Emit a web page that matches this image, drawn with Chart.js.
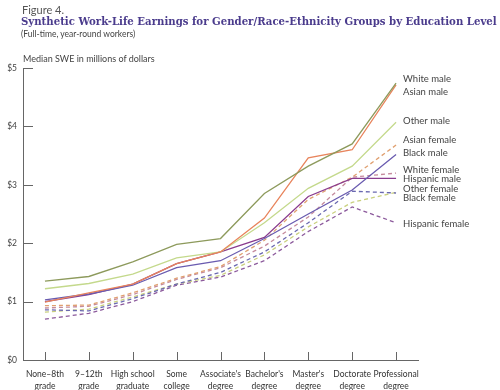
<!DOCTYPE html>
<html>
<head>
<meta charset="utf-8">
<script src="https://cdn.jsdelivr.net/npm/chart.js@4/dist/chart.umd.min.js"></script>
<style>
  body { margin: 0; background: #fff; }
  #wrap { position: relative; width: 500px; height: 390px; }
  #chart { position: absolute; left: 0; top: 0; }
  .txt { position: absolute; white-space: nowrap; font-family: Lato, "Open Sans", sans-serif; }
  #fig { left: 22px; top: 3px; font-size: 11px; color: #555; }
  #title { left: 21px; top: 15px; font-family: "DejaVu Serif", serif; font-weight: bold; font-size: 12px; color: #4a3b8c; }
  #sub { left: 21px; top: 29px; font-size: 8.5px; color: #444; }
  #ylab { left: 23px; top: 53px; font-size: 9px; color: #444; }
</style>
</head>
<body>
<div id="wrap">
  <canvas id="chart" width="500" height="390"></canvas>
  <div class="txt" id="fig">Figure 4.</div>
  <div class="txt" id="title">Synthetic Work-Life Earnings for Gender/Race-Ethnicity Groups by Education Level</div>
  <div class="txt" id="sub">(Full-time, year-round workers)</div>
  <div class="txt" id="ylab">Median SWE in millions of dollars</div>
</div>
<script>
// Categories (education level)
const educationLevels = [
    ['None\u20138th', 'grade'], ['9\u201312th', 'grade'], ['High school', 'graduate'],
    ['Some', 'college'], ["Associate's", 'degree'], ["Bachelor's", 'degree'],
    ["Master's", 'degree'], ['Doctorate', 'degree'], ['Professional', 'degree']
];

// Median SWE, millions of dollars
const whiteMale      = [1.35, 1.43, 1.68, 1.98, 2.08, 2.85, 3.32, 3.70, 4.74];
const asianMale      = [0.99, 1.15, 1.30, 1.65, 1.85, 2.43, 3.46, 3.60, 4.71];
const otherMale      = [1.22, 1.31, 1.47, 1.75, 1.85, 2.35, 2.94, 3.32, 4.07];
const blackMale      = [1.03, 1.13, 1.28, 1.58, 1.70, 2.08, 2.50, 2.91, 3.52];
const hispanicMale   = [1.00, 1.12, 1.30, 1.65, 1.85, 2.10, 2.80, 3.11, 3.11];
const asianFemale    = [0.93, 0.94, 1.15, 1.40, 1.60, 2.05, 2.75, 3.13, 3.68];
const whiteFemale    = [0.89, 0.92, 1.12, 1.38, 1.58, 1.95, 2.45, 3.13, 3.20];
const otherFemale    = [0.86, 0.84, 1.05, 1.30, 1.50, 1.85, 2.35, 2.89, 2.86];
const blackFemale    = [0.82, 0.87, 1.08, 1.30, 1.45, 1.80, 2.28, 2.70, 2.87];
const hispanicFemale = [0.70, 0.80, 1.00, 1.28, 1.42, 1.70, 2.20, 2.62, 2.35];

const yTicks = [0, 1, 2, 3, 4, 5];

// Series names and where their end labels sit (in data units)
const seriesNames = ['White male', 'Asian male', 'Other male', 'Black male', 'Hispanic male',
    'Asian female', 'White female', 'Other female', 'Black female', 'Hispanic female'];
const labelValues = [4.81, 4.59, 4.09, 3.54, 3.10, 3.77, 3.25, 2.93, 2.77, 2.33];

const seriesData = [whiteMale, asianMale, otherMale, blackMale, hispanicMale,
    asianFemale, whiteFemale, otherFemale, blackFemale, hispanicFemale];
const seriesColors = ['#8d9a5c', '#e8845c', '#c4d98c', '#6a5cb0', '#8a3c8e',
    '#e0a070', '#c48a9c', '#6a68b0', '#c9d07e', '#8c5a9c'];

const FONT = 'Lato, "Open Sans", sans-serif';

// fit the title to the reference width
(function() {
    const t = document.getElementById('title');
    const w = t.getBoundingClientRect().width;
    t.style.fontSize = (12 * 476 / w).toFixed(2) + 'px';
})();

const tickMarks = {
    id: 'tickMarks',
    afterDraw(chart) {
        const ctx = chart.ctx;
        const xs = chart.scales.x, ys = chart.scales.y;
        const area = chart.chartArea;
        ctx.save();
        ctx.strokeStyle = '#666';
        ctx.lineWidth = 1;
        ctx.beginPath();
        yTicks.forEach(v => {
            if (v === 0) return;
            const y = Math.round(ys.getPixelForValue(v)) + 0.5;
            ctx.moveTo(area.left, y);
            ctx.lineTo(area.left + 10, y);
        });
        educationLevels.forEach((c, i) => {
            const x = Math.round(xs.getPixelForValue(i)) + 0.5;
            ctx.moveTo(x, area.bottom);
            ctx.lineTo(x, area.bottom - 8);
        });
        ctx.stroke();

        // end labels
        ctx.fillStyle = '#444';
        ctx.font = '9.5px ' + FONT;
        ctx.textBaseline = 'middle';
        const lx = xs.getPixelForValue(educationLevels.length - 1) + 7;
        seriesNames.forEach((name, i) => {
            ctx.fillText(name, lx, ys.getPixelForValue(labelValues[i]));
        });
        ctx.restore();
    }
};

new Chart(document.getElementById('chart'), {
    type: 'line',
    data: {
        labels: educationLevels,
        datasets: seriesNames.map((name, i) => ({
            label: name,
            data: seriesData[i],
            borderColor: seriesColors[i],
            borderWidth: 1.3,
            borderDash: i >= 5 ? [4, 3] : [],
            pointRadius: 0,
            tension: 0,
            fill: false
        }))
    },
    options: {
        responsive: false,
        animation: false,
        layout: { padding: { left: 0, top: 68, right: 82, bottom: 0 } },
        plugins: {
            legend: { display: false },
            tooltip: { enabled: false }
        },
        scales: {
            x: {
                offset: true,
                grid: { drawOnChartArea: false, drawTicks: false, offset: true },
                border: { color: '#666', width: 1 },
                ticks: {
                    color: '#333',
                    padding: 8,
                    maxRotation: 0,
                    autoSkip: false,
                    font: { family: FONT, size: 8.5, lineHeight: 1.45 }
                },
                afterFit: function(scale) { scale.height = 30; }
            },
            y: {
                min: 0,
                max: 5,
                afterBuildTicks: function(scale) { scale.ticks = yTicks.map(v => ({ value: v })); },
                grid: { drawOnChartArea: false, drawTicks: false },
                border: { color: '#666', width: 1 },
                ticks: {
                    color: '#444',
                    padding: 6,
                    font: { family: FONT, size: 8.5 },
                    callback: function(value) { return '$' + value; }
                },
                afterFit: function(scale) { scale.width = 23; }
            }
        }
    },
    plugins: [tickMarks]
});
</script>
</body>
</html>
